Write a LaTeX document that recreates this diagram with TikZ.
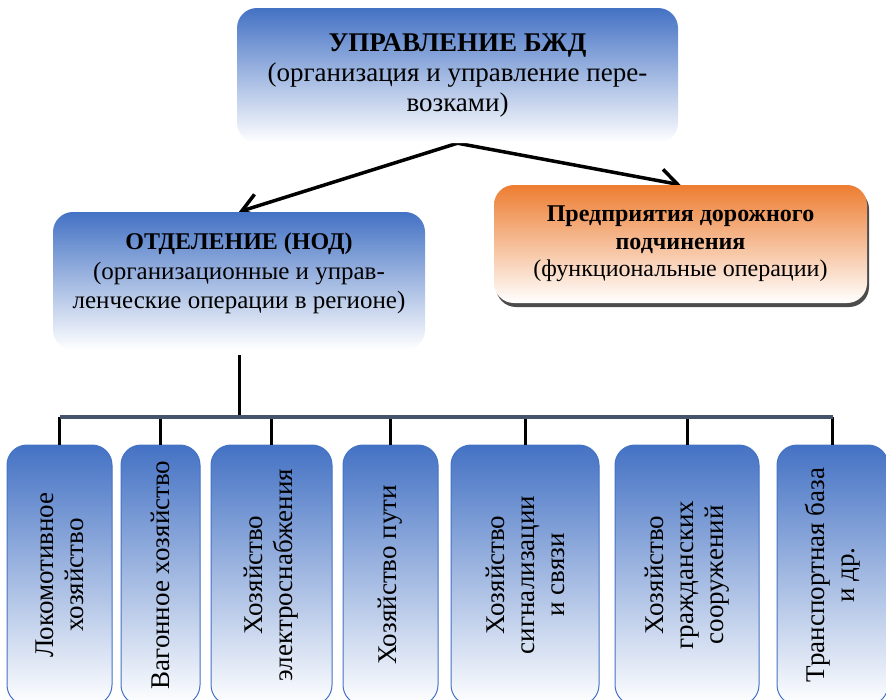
\documentclass[tikz,border=0pt]{standalone}
\usepackage{fontspec}
\setmainfont{Liberation Serif}
\usetikzlibrary{arrows.meta,shadows,backgrounds}
\definecolor{bzblue}{HTML}{4472C4}
\definecolor{bzorange}{HTML}{ED7D31}
\definecolor{bzslate}{HTML}{44546A}

\begin{document}
\begin{tikzpicture}[x=10pt,y=10pt]
\tikzstyle{every node}+=[inner sep=0pt,font=\fontsize{27}{30}\selectfont]
\tikzstyle{headbox}=[rounded corners=20pt,top color=bzblue,bottom color=white,align=center]
\tikzstyle{orangebox}=[rounded corners=20pt,top color=bzorange,bottom color=white,align=center,font=\fontsize{24}{27.5}\selectfont,drop shadow={shadow xshift=2pt,shadow yshift=-4pt,fill=black!70,opacity=1}]
\tikzstyle{unitbox}=[rotate=90,rounded corners=20pt,draw=bzblue,line width=1pt,top color=bzblue,bottom color=white,align=center,minimum width=260pt]
\tikzstyle{arr}=[line width=3.5pt,line join=miter,-{Straight Barb[length=17pt,width=24pt]}]
\tikzstyle{stem}=[line width=3pt]
\tikzstyle{bus}=[line width=4pt,bzslate]
\useasboundingbox (0,0) rectangle (88.6,-69.9);
\clip (0,0) rectangle (88.6,-69.9);
\node [headbox,minimum width=441pt,minimum height=135pt] (upr) at (45.75,-7.55) {\textbf{УПРАВЛЕНИЕ БЖД}\\(организация и управление пере-\\возками)\rule[-6pt]{0pt}{0pt}};
\node [headbox,minimum width=372pt,minimum height=138pt,font=\fontsize{25}{29.5}\selectfont] (otdel) at (23.9,-28.1) {{\fontsize{24}{29.5}\selectfont\textbf{ОТДЕЛЕНИЕ (НОД)}}\\(организационные и управ-\\ленческие операции в регионе)\rule[-20pt]{0pt}{0pt}};
\node [orangebox,minimum width=373pt,minimum height=118pt] (pred) at (68.05,-24.4) {\textbf{Предприятия дорожного}\\\textbf{подчинения}\\(функциональные операции)};
\begin{scope}[on background layer]
\draw [arr] (upr.south) -- (otdel.north);
\draw [arr] (upr.south) -- (pred.north);
\end{scope}
\node [unitbox,minimum height=105pt] (loko) at (5.95,-57.5) {Локомотивное\\хозяйство};
\node [unitbox,minimum height=79pt] (vagon) at (16.05,-57.5) {Вагонное хозяйство};
\node [unitbox,minimum height=121pt] (elektro) at (27.15,-57.5) {Хозяйство\\электроснабжения};
\node [unitbox,minimum height=95pt] (put) at (39.05,-57.5) {Хозяйство пути};
\node [unitbox,minimum height=148pt] (signal) at (52.5,-57.5) {Хозяйство\\сигнализации\\и связи};
\node [unitbox,minimum height=144pt] (grazhd) at (68.7,-57.5) {Хозяйство\\гражданских\\сооружений};
\node [unitbox,minimum height=111pt] (transp) at (83.25,-57.5) {Транспортная база\\и др.};
\coordinate (busL) at (6.0,-41.7);
\coordinate (busR) at (83.3,-41.7);
\draw [stem] ([yshift=-5pt]otdel.south) -- (otdel.south |- busL);
\draw [stem] (loko.east) -- (loko.east |- busL);
\draw [stem] (vagon.east) -- (vagon.east |- busL);
\draw [stem] (elektro.east) -- (elektro.east |- busL);
\draw [stem] (put.east) -- (put.east |- busL);
\draw [stem] (signal.east) -- (signal.east |- busL);
\draw [stem] (grazhd.east) -- (grazhd.east |- busL);
\draw [stem] (transp.east) -- (transp.east |- busL);
\draw [bus] (busL) -- (busR);
\end{tikzpicture}
\end{document}
